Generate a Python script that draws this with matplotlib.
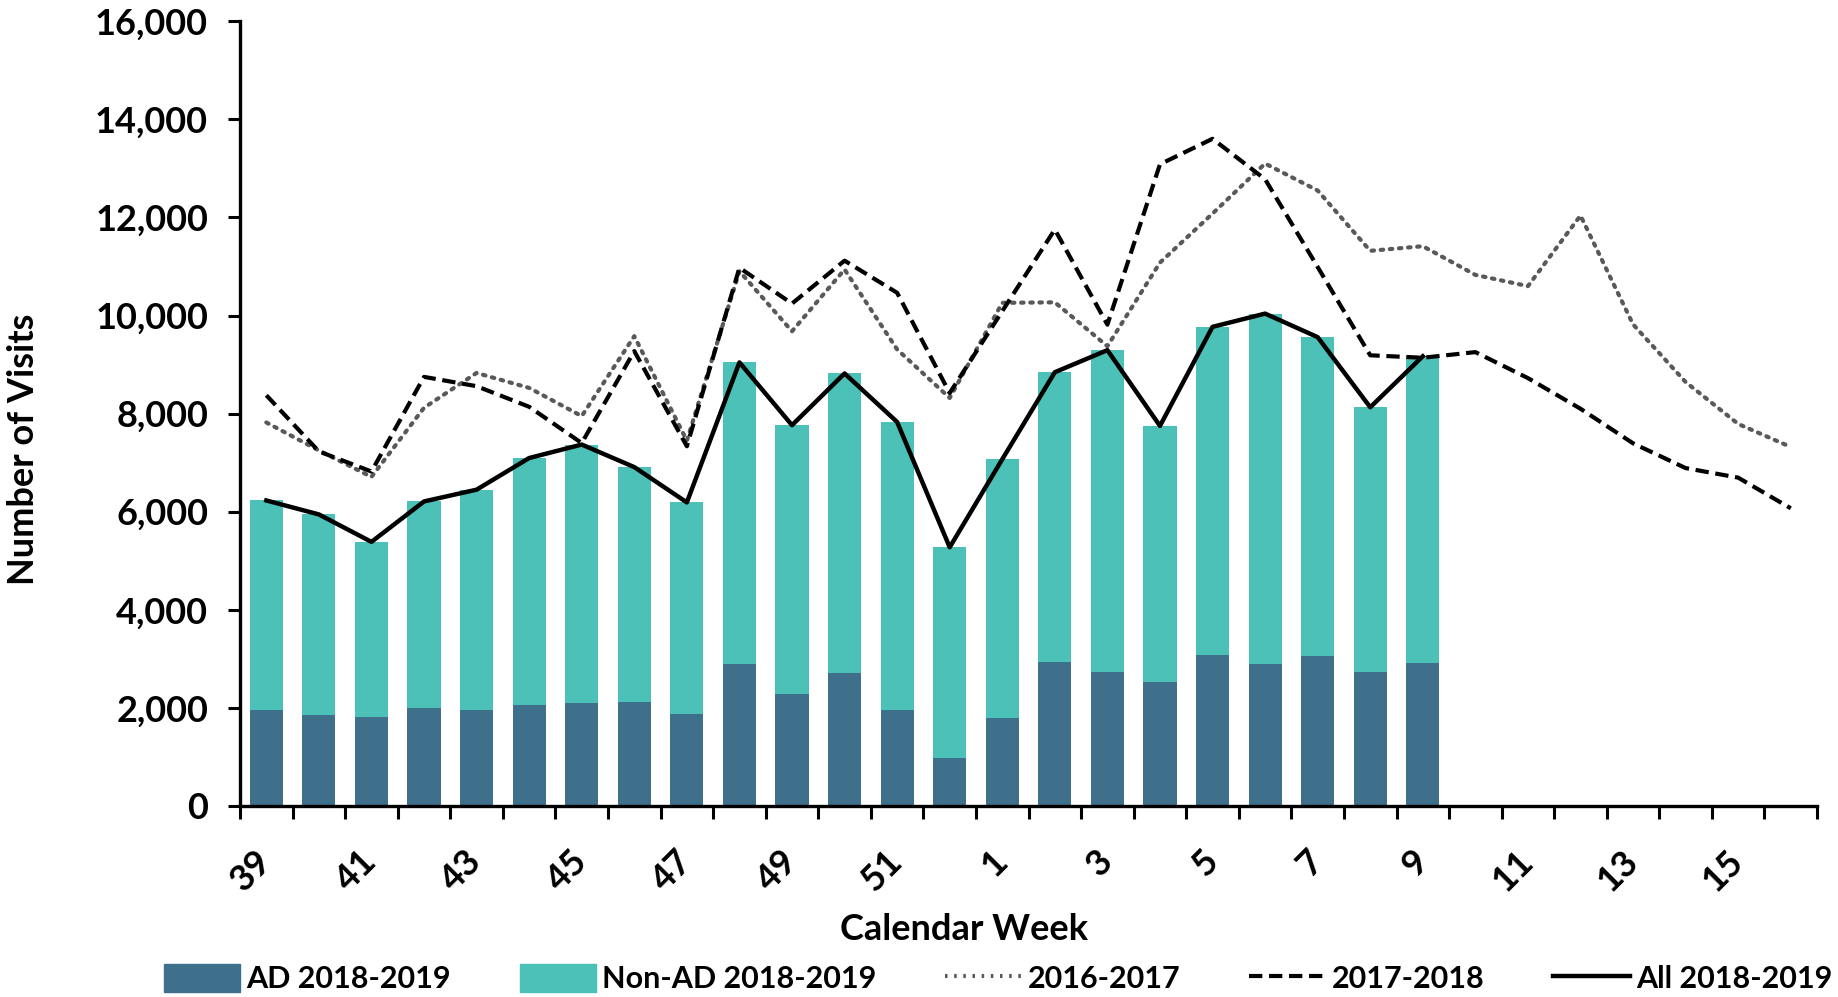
import numpy as np
import matplotlib.pyplot as plt
from matplotlib.patches import Patch
from matplotlib.lines import Line2D

plt.rcParams['font.family'] = ['Lato', 'DejaVu Sans']
plt.rcParams['font.weight'] = 'bold'

# Calendar weeks (season runs week 39 -> week 16)
weeks = [39, 40, 41, 42, 43, 44, 45, 46, 47, 48, 49, 50, 51, 52,
         1, 2, 3, 4, 5, 6, 7, 8, 9, 10, 11, 12, 13, 14, 15, 16]

# 2018-2019 visits (available through week 9)
ad_1819 = [1960, 1860, 1810, 1995, 1960, 2055, 2090, 2125, 1880, 2905, 2275, 2720,
           1950, 975, 1785, 2940, 2740, 2525, 3075, 2900, 3055, 2740, 2920]
nonad_1819 = [4270, 4085, 3575, 4215, 4490, 5040, 5280, 4785, 4310, 6140, 5490, 6100,
              5880, 4300, 5285, 5905, 6555, 5225, 6695, 7140, 6505, 5390, 6250]

# previous seasons, total visits
season_1617 = [7820, 7250, 6710, 8120, 8830, 8525, 7950, 9580, 7450, 10905, 9680, 10940,
               9310, 8320, 10260, 10270, 9375, 11080, 12080, 13100, 12550, 11320, 11415,
               10830, 10600, 12040, 9820, 8645, 7790, 7320]
season_1718 = [8375, 7230, 6820, 8750, 8560, 8140, 7400, 9275, 7335, 10975, 10245, 11120,
               10465, 8420, 10090, 11755, 9815, 13085, 13605, 12780, 10990, 9190, 9140,
               9255, 8725, 8100, 7395, 6890, 6695, 6070]

ad = np.array(ad_1819)
nonad = np.array(nonad_1819)
all_1819 = ad + nonad

c_ad = '#3e6f8b'
c_nonad = '#4cc1b7'

fig = plt.figure(figsize=(18.38, 9.97), dpi=100)
ax = fig.add_axes([0.1306, 0.1916, 0.858, 0.787])

x = np.arange(len(weeks))
xb = x[:len(ad)]
ax.bar(xb, ad, width=0.63, color=c_ad, zorder=2)
ax.bar(xb, nonad, width=0.63, bottom=ad, color=c_nonad, zorder=2)

ax.plot(x, season_1617, color='#595959', lw=3, ls=(0, (0.6, 1.6)),
        dash_capstyle='round', zorder=3)
ax.plot(x, season_1718, color='black', lw=3, ls=(0, (3.2, 1.6)), zorder=3)
ax.plot(xb, all_1819, color='black', lw=3.2, zorder=4)

ax.set_xlim(-0.5, len(weeks) - 0.5)
ax.set_ylim(0, 16000)
ax.set_yticks(range(0, 16001, 2000))
ax.set_yticklabels([f'{v:,}' for v in range(0, 16001, 2000)], fontsize=26,
                   fontweight='bold')

ax.set_xticks(x[::2])
ax.set_xticklabels([str(w) for w in weeks[::2]], fontsize=26, fontweight='bold',
                   rotation=45, ha='right', va='center', rotation_mode='anchor')
ax.set_xticks(np.arange(-0.5, len(weeks), 1), minor=True)
ax.tick_params(axis='x', which='major', length=0, pad=36)
ax.tick_params(axis='x', which='minor', length=9, width=2.2)
ax.tick_params(axis='y', length=9, width=2.2, pad=14)

for s in ['top', 'right']:
    ax.spines[s].set_visible(False)
for s in ['left', 'bottom']:
    ax.spines[s].set_linewidth(2.4)

ax.set_ylabel('Number of Visits', fontsize=26, fontweight='bold')
ax.set_xlabel('Calendar Week', fontsize=26, fontweight='bold')
ax.yaxis.set_label_coords(-0.127, 0.454)
ax.xaxis.set_label_coords(0.459, -0.137)

handles = [
    Patch(color=c_ad),
    Patch(color=c_nonad),
    Line2D([], [], color='#595959', lw=3, ls=(0, (0.6, 1.6))),
    Line2D([], [], color='black', lw=3, ls=(0, (3.2, 1.6))),
    Line2D([], [], color='black', lw=3.2),
]
labels = ['AD 2018-2019', 'Non-AD 2018-2019', '2016-2017', '2017-2018', 'All 2018-2019']
fig.legend(handles, labels, loc='lower center', bbox_to_anchor=(0.543, -0.024), ncol=5,
           frameon=False, handlelength=2.5, handleheight=1.0,
           handletextpad=0.2, columnspacing=2.25,
           prop={'size': 22, 'weight': 'bold'})

fig.savefig('out.png', dpi=100)
